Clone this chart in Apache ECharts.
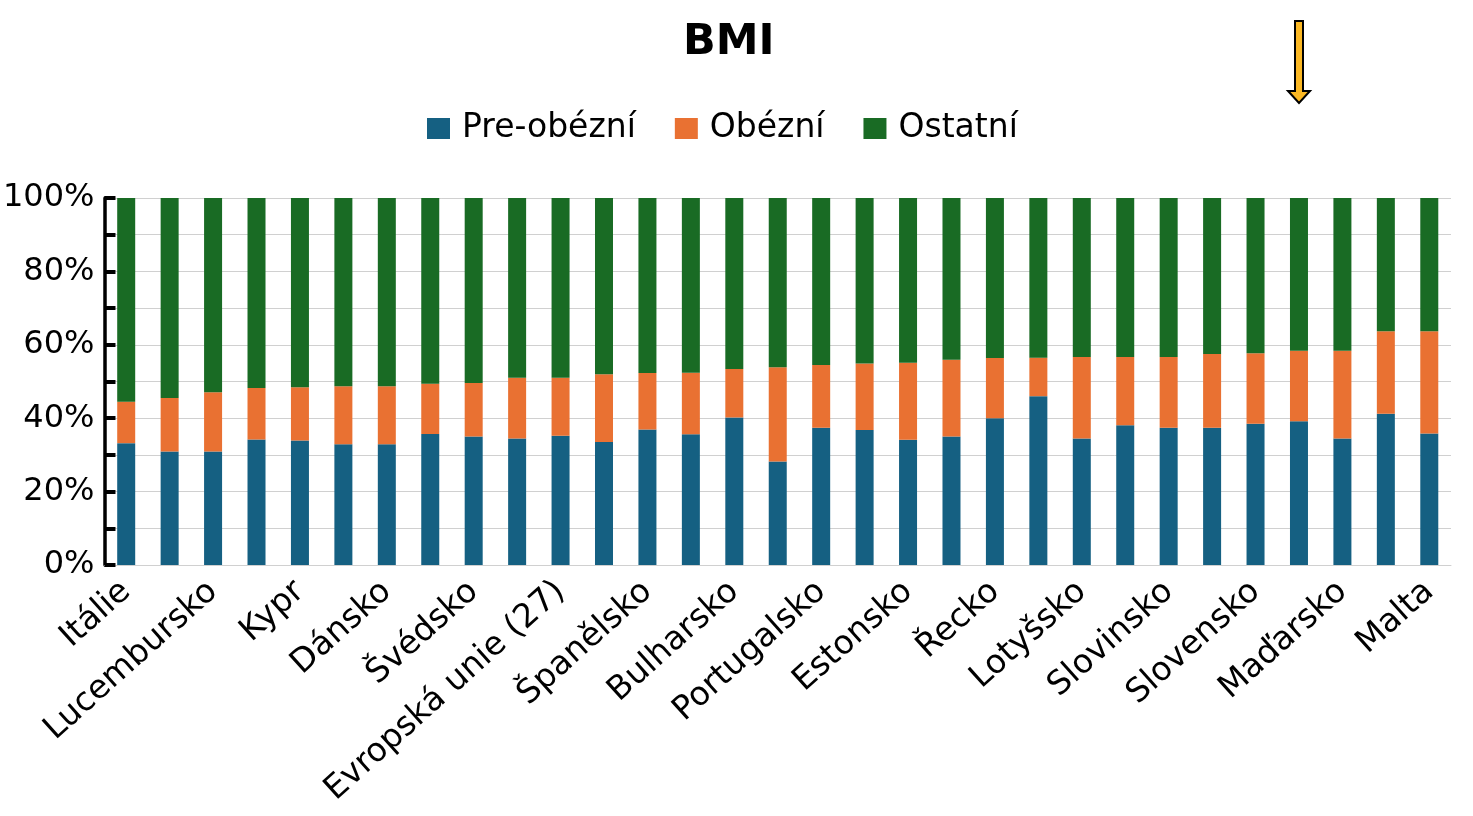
<!DOCTYPE html>
<html>
<head>
<meta charset="utf-8">
<script src="https://cdn.jsdelivr.net/npm/echarts@6/dist/echarts.min.js"></script>
<style>
html,body{margin:0;padding:0;background:#fff;}
#c{width:1473px;height:816px;}
</style>
</head>
<body>
<div id="c"></div>
<script>
const categories = ['Itálie','Francie','Lucembursko','Nizozemsko','Kypr','Belgie','Dánsko','Rakousko','Švédsko','Německo','Evropská unie (27)','Norsko','Španělsko','Irsko','Bulharsko','Turecko','Portugalsko','Island','Estonsko','Litva','Řecko','Rumunsko','Lotyšsko','Finsko','Slovinsko','Polsko','Slovensko','Česko','Maďarsko','Chorvatsko','Malta'];
const preObese = [33.2,30.9,30.9,34.2,33.9,32.9,32.9,35.7,35.0,34.5,35.2,33.5,36.9,35.6,40.2,28.2,37.4,36.8,34.1,35.0,40.0,46.0,34.5,38.1,37.4,37.4,38.5,39.2,34.5,41.2,35.8];
const obese = [11.3,14.6,16.2,14.0,14.5,15.8,15.8,13.7,14.6,16.5,15.8,18.5,15.4,16.8,13.2,25.7,17.1,18.1,21.0,20.9,16.4,10.5,22.2,18.6,19.3,20.1,19.2,19.2,23.9,22.5,27.9];
const other = [55.5,54.5,52.9,51.8,51.6,51.3,51.3,50.6,50.4,49.0,49.0,48.0,47.7,47.6,46.6,46.1,45.5,45.1,44.9,44.1,43.6,43.5,43.3,43.3,43.3,42.5,42.3,41.6,41.6,36.3,36.3];
const seriesNames = ['Pre-obézní','Obézní','Ostatní'];
const yTicks = [0,20,40,60,80,100];

const FONT = 'DejaVu Sans';
const chart = echarts.init(document.getElementById('c'));
const mk = (name, data, color) => ({
  name, type: 'bar', stack: 'a', data, barWidth: 18,
  itemStyle: { color }, emphasis: { disabled: true }
});
chart.setOption({
  animation: false,
  textStyle: { fontFamily: FONT },
  title: {
    text: 'BMI', left: 678, top: 16,
    textStyle: { fontFamily: FONT, fontSize: 43, fontWeight: 'bold', color: '#000' }
  },
  legend: {
    data: seriesNames, left: 427, top: 112, padding: 0, icon: 'rect',
    itemWidth: 23, itemHeight: 21, itemGap: 39,
    textStyle: { fontFamily: FONT, fontSize: 33, color: '#000', padding: [0, 0, 0, 7] }
  },
  grid: { left: 103, right: 22, top: 198, bottom: 251, containLabel: false },
  xAxis: {
    type: 'category', data: categories,
    axisLine: { show: true, lineStyle: { color: '#d0d0d0', width: 1 } },
    axisTick: { show: false },
    axisLabel: { interval: 1, rotate: 42, margin: 22, fontFamily: FONT, fontSize: 33, color: '#000' }
  },
  yAxis: {
    type: 'value', min: 0, max: 100, interval: 10,
    axisLine: { show: true, lineStyle: { color: '#000', width: 3.5 } },
    axisTick: { show: true, inside: true, length: 11, lineStyle: { color: '#000', width: 4 } },
    splitLine: { show: true, lineStyle: { color: '#d0d0d0', width: 1 } },
    axisLabel: {
      margin: 10, fontFamily: FONT, fontSize: 32, color: '#000',
      formatter: v => yTicks.indexOf(v) >= 0 ? v + '%' : ''
    }
  },
  series: [
    mk(seriesNames[0], preObese, '#156082'),
    mk(seriesNames[1], obese, '#E97132'),
    mk(seriesNames[2], other, '#196B24')
  ],
  graphic: [{
    type: 'polygon', z: 100,
    shape: { points: [[1295,21],[1303,21],[1303,91],[1310,91],[1299,103],[1288,91],[1295,91]] },
    style: { fill: '#FBB824', stroke: '#000', lineWidth: 2 }
  }]
});
</script>
</body>
</html>
